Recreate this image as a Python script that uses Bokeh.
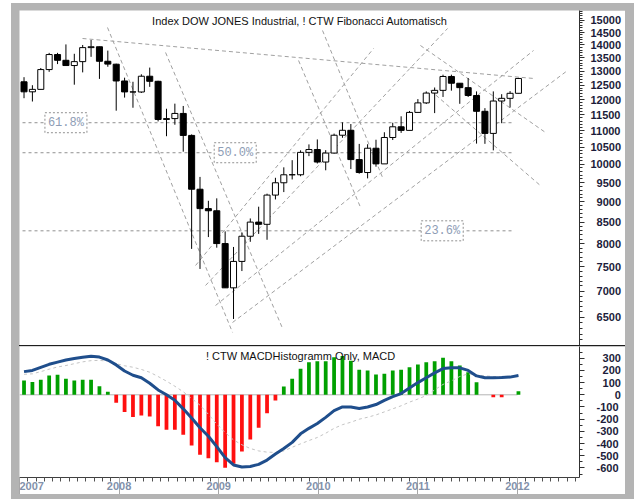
from bokeh.plotting import figure
from bokeh.models import Range1d, FixedTicker, CustomJSTickFormatter, Label, ColumnDataSource, Spacer
from bokeh.layouts import column
from bokeh.embed import file_html
from bokeh.resources import INLINE

# ---- monthly candles (DOW JONES), Feb 2007 .. Jan 2012 ----
opens = [12621, 12269, 12354, 13063, 13628, 13409, 13212, 13358, 13896, 13930, 13372, 13262,
         12650, 12266, 12263, 12820, 12638, 11350, 11378, 11544, 10851, 9325, 8829, 8776,
         8001, 7063, 7609, 8168, 8500, 8447, 9172, 9496, 9712, 9713, 10345, 10428,
         10067, 10325, 10857, 11009, 10137, 9774, 10466, 10015, 10788, 11118, 11006, 11578,
         11892, 12226, 12320, 12811, 12570, 12414, 12143, 11614, 10913, 11955, 12046, 12218]
highs = [12786, 12500, 13121, 13692, 13692, 14022, 13657, 14000, 14198, 13935, 13779, 13280,
         12768, 12622, 12891, 13136, 12657, 11698, 11867, 11790, 10882, 9654, 9026, 9088,
         8281, 7925, 8257, 8588, 8877, 9209, 9630, 9918, 10120, 10405, 10580, 10729,
         10410, 10907, 11258, 11205, 10595, 10584, 10720, 10948, 11245, 11452, 11625, 12020,
         12284, 12419, 12876, 12876, 12570, 12753, 12284, 11717, 12284, 12188, 12294, 12760]
lows = [12050, 11939, 12354, 12980, 13266, 13212, 12518, 12960, 13540, 12724, 13167, 11634,
        12071, 11731, 12229, 12442, 11288, 10827, 11183, 10365, 7882, 7449, 8149, 7909,
        7062, 6470, 7405, 8041, 8222, 8087, 9060, 9250, 9585, 9672, 10236, 10026,
        9836, 10310, 10780, 9870, 9742, 9614, 9936, 10015, 10711, 10929, 11006, 11578,
        11855, 11555, 12093, 12310, 11862, 12093, 10604, 10597, 10404, 11231, 11736, 12218]
closes = [12269, 12354, 13063, 13628, 13409, 13212, 13358, 13896, 13930, 13372, 13265, 12650,
          12266, 12263, 12820, 12638, 11350, 11378, 11544, 10851, 9325, 8829, 8776, 8001,
          7063, 7609, 8168, 8500, 8447, 9172, 9496, 9712, 9713, 10345, 10428, 10067,
          10325, 10857, 11009, 10137, 9774, 10466, 10015, 10788, 11118, 11006, 11578, 11892,
          12226, 12320, 12811, 12570, 12414, 12143, 11614, 10913, 11955, 12046, 12218, 12740]

# ---- MACD panel ----
macd = [190, 200, 225, 250, 268, 285, 297, 308, 316, 309, 285, 245,
        195, 160, 140, 95, 40, 0, -45, -115, -190, -270, -340, -425,
        -515, -575, -592, -588, -570, -535, -485, -440, -390, -320, -275, -235,
        -185, -130, -100, -100, -112, -100, -80, -45, -15, 10, 55, 100,
        140, 180, 215, 222, 221, 200, 155, 140, 140, 142, 145, 158]
signal = [168, 172, 190, 210, 228, 240, 255, 270, 280, 282, 276, 255,
          238, 226, 208, 185, 150, 112, 70, 25, -30, -85, -160, -240,
          -310, -370, -410, -440, -460, -470, -472, -460, -430, -402, -375, -350,
          -315, -275, -245, -225, -200, -184, -165, -140, -115, -90, -60, -35,
          -6, 40, 85, 115, 150, 172, 162, 155, 150, 150, 152, 158]
hist = [117, 104, 123, 158, 164, 131, 117, 123, 123, 71, 25, -66,
        -142, -183, -170, -178, -257, -287, -287, -328, -416, -492, -520, -552,
        -598, -566, -465, -366, -271, -151, -47, 68, 131, 213, 267, 275,
        275, 308, 318, 280, 205, 199, 166, 172, 199, 205, 226, 248,
        267, 275, 303, 275, 240, 185, 103, 0, -20, -20, 0, 30]

years = [2007, 2008, 2009, 2010, 2011, 2012]
year_labels = ["2007", "2008", "2009", "2010", "2011", "2012"]

fib_ratios = [0.236, 0.5, 0.618]
fib_texts = ["23.6%", "50.0%", "61.8%"]
fib_label_x = [49.9, 25.2, 5.0]

# trend / fan lines: (candle index, price) endpoints
tl_x0 = [6.98, 9.96, 16.89, 35.62, 32.76, 20.47, 21.66, 22.85, 24.88, 47.3, 48.5]
tl_y0 = [14258, 14707, 13707, 14583, 13401, 7522, 7110, 6720, 6406, 13980, 12316]
tl_x1 = [60.8, 24.88, 30.85, 42.78, 40.16, 41.71, 50.54, 60.8, 64.86, 62.23, 61.6]
tl_y1 = [12740, 6230, 6300, 9639, 8857, 13862, 14666, 13784, 13029, 10941, 9425]

# ---------------- layout constants ----------------
PX_PER_BAR = 8.38
X0 = -0.54
XR = (X0, X0 + 560 / PX_PER_BAR)
BARS_PER_YEAR = 11.885
idx = list(range(len(closes)))

pad_code = """
const s = Math.round(tick).toString();
let pad = '';
for (let i = s.length; i < %d; i++) pad += '\\u2007';
return pad + s;
"""

# ---------------- main chart ----------------
p1 = figure(width=606, height=335, output_backend="svg", toolbar_location=None,
            y_axis_type="log", y_axis_location="right", x_axis_location=None,
            x_range=Range1d(*XR), y_range=Range1d(6004, 15428),
            min_border_left=0, min_border_top=0, min_border_bottom=0, min_border_right=46,
            margin=(7, 9, 0, 8))
p1.outline_line_color = None
p1.xgrid.visible = False
p1.ygrid.visible = False
p1.background_fill_color = "white"
p1.border_fill_color = "white"

ya = p1.yaxis[0]
ya.ticker = FixedTicker(ticks=list(range(6500, 15001, 500)), minor_ticks=list(range(6000, 15500, 100)))
ya.formatter = CustomJSTickFormatter(code=pad_code % 5)
ya.axis_line_color = "#303030"
ya.major_tick_line_color = "#303030"
ya.minor_tick_line_color = "#303030"
ya.major_tick_out = 5
ya.major_tick_in = 0
ya.minor_tick_out = 3
ya.minor_tick_in = 0
ya.major_label_standoff = 6
ya.major_label_text_font = "Liberation Sans"
ya.major_label_text_font_style = "bold"
ya.major_label_text_font_size = "11px"
ya.major_label_text_color = "#1c1c3a"

# fibonacci levels
lo, hi = min(lows), max(highs)
fib_levels = [lo + r * (hi - lo) for r in fib_ratios]
p1.segment(x0=[-0.18] * 3, y0=fib_levels, x1=[58.4] * 3, y1=fib_levels,
           line_color="#909090", line_dash="3 3", line_width=1)

# trend lines
p1.segment(x0=tl_x0, y0=tl_y0, x1=tl_x1, y1=tl_y1,
           line_color="#a0a0a0", line_dash="4 3", line_width=1)

# candles
cs = ColumnDataSource(dict(
    x=idx, high=highs, low=lows,
    top=[max(o, c) for o, c in zip(opens, closes)],
    bottom=[min(o, c) for o, c in zip(opens, closes)],
    fill=["white" if c >= o else "black" for o, c in zip(opens, closes)],
))
p1.segment(x0="x", y0="low", x1="x", y1="high", source=cs, line_color="black", line_width=1)
p1.vbar(x="x", top="top", bottom="bottom", width=0.72, source=cs,
        fill_color="fill", line_color="black", line_width=1)

for t, lx, lv in zip(fib_texts, fib_label_x, fib_levels):
    p1.add_layout(Label(x=lx, y=lv, text=t, text_align="center", text_baseline="middle",
                        text_font="Liberation Mono", text_font_size="12px", text_color="#8e9db5",
                        background_fill_color="white", border_line_color="#909090",
                        border_line_dash="2 2", padding=3))

p1.add_layout(Label(x=32.9, y=14958, text="Index DOW JONES Industrial, ! CTW Fibonacci Automatisch",
                    text_align="center", text_baseline="middle", text_font="Liberation Sans",
                    text_font_size="11px", text_color="#111111"))

# ---------------- MACD panel ----------------
p2 = figure(width=606, height=148, output_backend="svg", toolbar_location=None,
            y_axis_location="right", x_range=Range1d(*XR), y_range=Range1d(-678, 396),
            min_border_left=0, min_border_top=0, min_border_bottom=17, min_border_right=46,
            margin=(0, 9, 5, 8))
p2.outline_line_color = None
p2.xgrid.visible = False
p2.ygrid.visible = False
p2.border_fill_color = "white"

ya2 = p2.yaxis[0]
ya2.ticker = FixedTicker(ticks=list(range(-600, 301, 100)), minor_ticks=list(range(-650, 351, 50)))
ya2.formatter = CustomJSTickFormatter(code=pad_code % 4)
ya2.axis_line_color = "#303030"
ya2.major_tick_line_color = "#303030"
ya2.minor_tick_line_color = "#303030"
ya2.major_tick_out = 5
ya2.major_tick_in = 0
ya2.minor_tick_out = 3
ya2.minor_tick_in = 0
ya2.major_label_standoff = 12
ya2.major_label_text_font = "Liberation Sans"
ya2.major_label_text_font_style = "bold"
ya2.major_label_text_font_size = "11px"
ya2.major_label_text_color = "#1c1c3a"

year_pos = [X0 + BARS_PER_YEAR * (y - years[0]) for y in years]
month_pos = [yp + BARS_PER_YEAR * m / 12 for yp in year_pos for m in range(1, 12)]
month_pos = [m for m in month_pos if m < XR[1]]
xa = p2.xaxis[0]
xa.ticker = FixedTicker(ticks=year_pos, minor_ticks=month_pos)
xa.major_label_overrides = {yp: lab for yp, lab in zip(year_pos, year_labels)}
xa.axis_line_color = "#404040"
xa.major_tick_line_color = "#a8a8a8"
xa.minor_tick_line_color = "#505050"
xa.major_tick_out = 17
xa.major_tick_in = 0
xa.minor_tick_out = 4
xa.minor_tick_in = 0
xa.major_label_standoff = -13
xa.major_label_text_align = "left"
xa.major_label_text_font = "Liberation Sans"
xa.major_label_text_font_style = "bold"
xa.major_label_text_font_size = "11px"
xa.major_label_text_color = "#8392ab"

p2.segment(x0=[X0], y0=[0], x1=[year_pos[-1]], y1=[0], line_color="#b4b4b4", line_width=1)
hs = ColumnDataSource(dict(x=idx, top=hist,
                           color=["#00a000" if v >= 0 else "#ff1010" for v in hist]))
p2.vbar(x="x", top="top", bottom=0, width=0.45, source=hs, fill_color="color", line_color=None)
p2.line(idx, signal, line_color="#c4c4c4", line_dash="3 3", line_width=1)
p2.line(idx, macd, line_color="#1f4e8c", line_width=3)

p2.add_layout(Label(x=33.0, y=322, text="! CTW MACDHistogramm Only, MACD",
                    text_align="center", text_baseline="middle", text_font="Liberation Sans",
                    text_font_size="11px", text_color="#111111"))

sep = Spacer(width=606, height=1, margin=(0, 9, 0, 8), styles={"background-color": "#1e1e1e"})

layout = column(p1, sep, p2, margin=(3, 0, 0, 11), styles={"background-color": "#b4b4b4"})

open("out.html", "w").write(file_html(layout, INLINE))
